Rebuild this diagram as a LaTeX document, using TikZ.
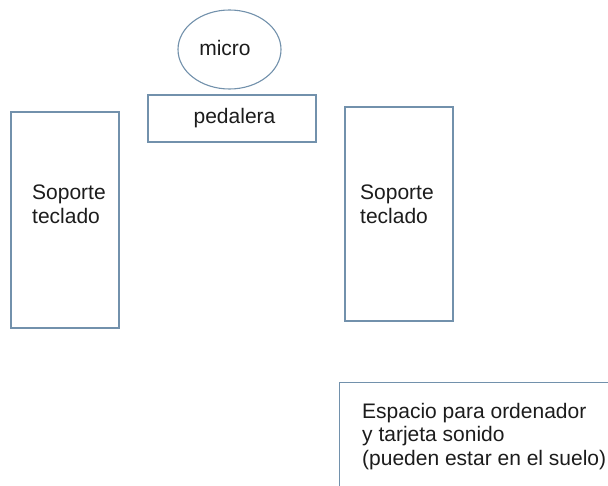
\documentclass[tikz,border=0pt]{standalone}
\usepackage{fontspec}
\setmainfont{Liberation Sans}
\usetikzlibrary{shapes.geometric}
\definecolor{edge}{RGB}{114,145,172}
\definecolor{ink}{RGB}{28,28,28}
\begin{document}
\begin{tikzpicture}[x=1pt,y=-1pt,
  box/.style={draw=edge,line width=1.1pt,rectangle,inner sep=0pt},
  lbl/.style={text=ink,font=\fontsize{21}{23.5}\selectfont,inner sep=0pt,align=left}]
\useasboundingbox[fill=white] (0,0) rectangle (608,486);
% micro
\node[ellipse,draw=edge,line width=1.1pt,minimum width=103pt,minimum height=79pt,inner sep=0pt] (micro) at (229.5,49.5) {};
\node[lbl] (microt) at (225,48) {micro};
% pedalera
\node[box,minimum width=168pt,minimum height=47pt] (ped) at (232,118.5) {};
\node[lbl] (pedt) at (234.5,118.5) {pedalera};
% soportes
\node[box,minimum width=108pt,minimum height=216pt] (sopL) at (65,220) {};
\node[lbl,anchor=west] (sopLt) at (32,204.5) {Soporte\\teclado};
\node[box,minimum width=108pt,minimum height=214pt] (sopR) at (399,214) {};
\node[lbl,anchor=west] (sopRt) at (360,204.5) {Soporte\\teclado};
% espacio
\node[box,minimum width=300pt,minimum height=140pt,anchor=north west] (esp) at (339,382) {};
\node[lbl,anchor=west] (espt) at (362,436.5) {Espacio para ordenador\\y tarjeta sonido\\(pueden estar en el suelo)};
\end{tikzpicture}
\end{document}
